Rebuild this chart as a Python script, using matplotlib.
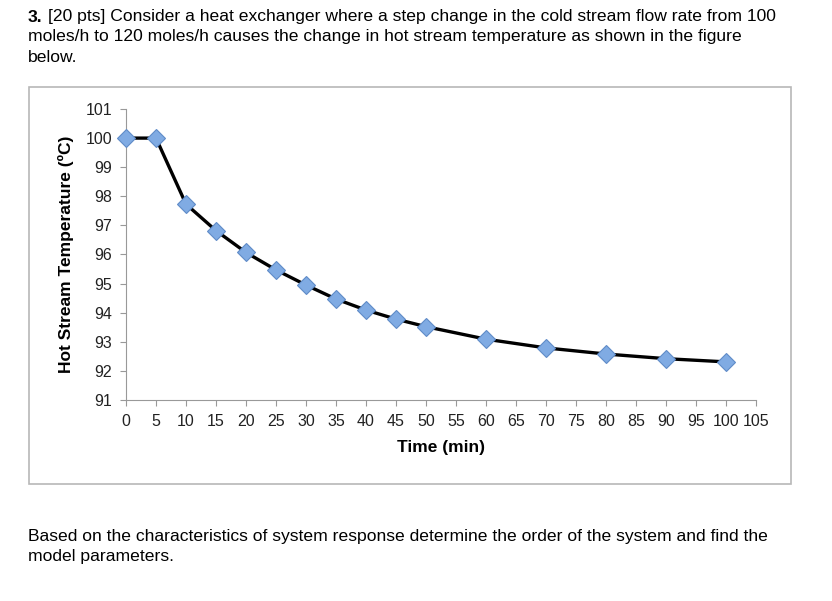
import matplotlib.pyplot as plt
from matplotlib.patches import Rectangle

# time (min) and hot stream temperature (C)
time_min = [0, 5, 10, 15, 20, 25, 30, 35, 40, 45, 50, 60, 70, 80, 90, 100]
temp_c = [100.0, 100.0, 97.73, 96.82, 96.07, 95.47, 94.95, 94.47, 94.09, 93.78,
          93.52, 93.09, 92.79, 92.58, 92.42, 92.31]

x_ticks = list(range(0, 106, 5))
y_ticks = list(range(91, 102))

plt.rcParams['font.family'] = ['Liberation Sans', 'DejaVu Sans']

fig = plt.figure(figsize=(8.32, 6.01), dpi=100)

# question text above the chart
fs = 12.6
fig.text(28 / 832, 1 - 17 / 601, "3.", fontsize=fs, fontweight='bold', va='center')
fig.text(48 / 832, 1 - 17 / 601,
         "[20 pts] Consider a heat exchanger where a step change in the cold stream flow rate from 100",
         fontsize=fs, va='center')
fig.text(28 / 832, 1 - 37 / 601,
         "moles/h to 120 moles/h causes the change in hot stream temperature as shown in the figure",
         fontsize=fs, va='center')
fig.text(28 / 832, 1 - 57 / 601, "below.", fontsize=fs, va='center')

# box around the chart
fig.patches.append(Rectangle((29 / 832, 1 - 484 / 601), 762 / 832, 397 / 601,
                             transform=fig.transFigure, fill=False,
                             edgecolor='#b8b8b8', linewidth=1.2))

ax = fig.add_axes([126 / 832, 1 - 400 / 601, 630 / 832, 291 / 601])
ax.plot(time_min, temp_c, color='black', linewidth=2.4, zorder=2)
ax.plot(time_min, temp_c, linestyle='none', marker='D', markersize=9,
        markerfacecolor='#80abe3', markeredgecolor='#5f8bc8', markeredgewidth=0.8,
        zorder=3, clip_on=False)

ax.set_xlim(0, 105)
ax.set_ylim(91, 101)
ax.set_xticks(x_ticks)
ax.set_yticks(y_ticks)
ax.tick_params(labelsize=11.5, colors='#222222', direction='out', length=4,
               width=0.8, pad=6)
ax.tick_params(axis='x', color='#999999')
ax.tick_params(axis='y', color='#999999')
for s in ['top', 'right']:
    ax.spines[s].set_visible(False)
for s in ['left', 'bottom']:
    ax.spines[s].set_color('#999999')
    ax.spines[s].set_linewidth(0.8)

ax.set_xlabel("Time (min)", fontsize=12.5, fontweight='bold', labelpad=8)
ax.set_ylabel("Hot Stream Temperature (ºC)", fontsize=12.5, fontweight='bold', labelpad=8)

# question text below the chart
fig.text(28 / 832, 1 - 537 / 601,
         "Based on the characteristics of system response determine the order of the system and find the",
         fontsize=fs, va='center')
fig.text(28 / 832, 1 - 557 / 601, "model parameters.", fontsize=fs, va='center')

fig.savefig("out.png", dpi=100)
